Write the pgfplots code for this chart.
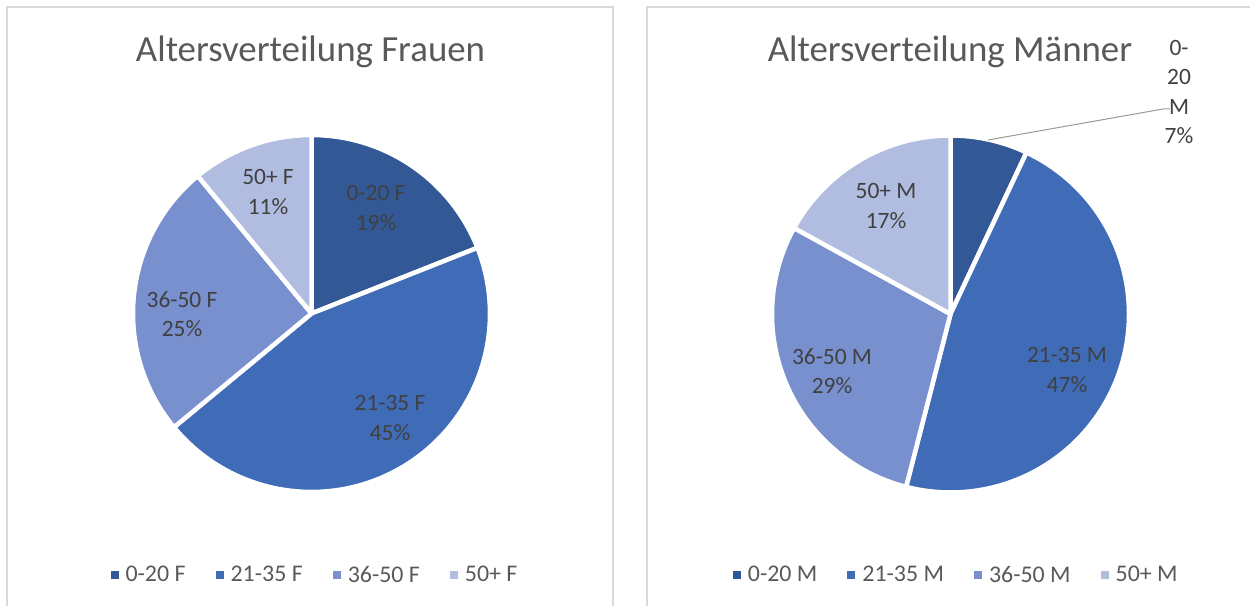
\documentclass[border=0pt]{standalone}
\usepackage{pgfplots}
\pgfplotsset{compat=1.18}
\usepackage{pgfplotstable}
\usepackage{fontspec}
\setmainfont{Carlito}
\definecolor{c1}{HTML}{325896}
\definecolor{c2}{HTML}{3F6BB7}
\definecolor{c3}{HTML}{7990CF}
\definecolor{c4}{HTML}{B1BDE0}
\definecolor{lblc}{HTML}{404040}
\definecolor{titc}{HTML}{595959}
\definecolor{bordc}{HTML}{D9D9D9}

% start = cumulative share before the slice, value = share in percent
\pgfplotstableread{
start value
0  19
19 45
64 25
89 11
}\frauen
\pgfplotstableread{
start value
0  7
7  47
54 29
83 17
}\maenner

\newcommand\R{178.5}
\newcommand\slice[5]{%
  \pgfplotstablegetelem{#2}{start}\of#1\let\sStart\pgfplotsretval
  \pgfplotstablegetelem{#2}{value}\of#1\let\sVal\pgfplotsretval
  \pgfmathsetmacro\aA{90-3.6*(\sStart+\sVal)}%
  \pgfmathsetmacro\aB{90-3.6*\sStart}%
  \edef\doslice{\noexpand\addplot[fill=#5, draw=white, line width=4.5bp, line join=round, domain=\aA:\aB, samples=90, variable=\noexpand\t, forget plot] ({#3+\R*cos(\noexpand\t)},{#4+\R*sin(\noexpand\t)}) -- (axis cs:#3,#4) -- cycle;}%
  \doslice}

\pgfplotsset{
  panel/.style={
    scale only axis, hide axis, width=625bp, height=606bp,
    ymin=0, ymax=606,
    legend columns=4,
    legend style={anchor=center, draw=none, fill=none,
      font=\fontsize{24}{28}\selectfont, text=titc,
      /tikz/every even column/.append style={column sep=28bp},
      inner xsep=0bp},
  },
  sq/.style={legend image code/.code={\fill[#1, draw=none] (0bp,-4bp) rectangle (8bp,4bp); \path[draw=none, fill=none] (0bp,0bp) -- (13bp,0bp);}},
}

\begin{document}
\begin{tikzpicture}
\useasboundingbox (0,0) rectangle (1250bp,606bp);
\begin{axis}[panel, at={(0,0)}, anchor=south west, xmin=0, xmax=625,
  legend style={at={(0.504,0.0512)}}]
  \addlegendimage{sq=c1}
  \addlegendimage{sq=c2}
  \addlegendimage{sq=c3}
  \addlegendimage{sq=c4}
  \slice{\frauen}{0}{311.5}{292.5}{c1}
  \slice{\frauen}{1}{311.5}{292.5}{c2}
  \slice{\frauen}{2}{311.5}{292.5}{c3}
  \slice{\frauen}{3}{311.5}{292.5}{c4}
  \draw[bordc, line width=1.5bp] (axis cs:7,-10) -- (axis cs:7,599) -- (axis cs:613,599) -- (axis cs:613,-10);
  \node[text=titc, font=\fontsize{37}{44}\selectfont] at (axis cs:310.5,554) {Altersverteilung Frauen};
  \begin{scope}[every node/.style={align=center, text=lblc, font=\fontsize{23.5}{29.5}\selectfont}]
  \node at (axis cs:376,398) {0-20 F\\19\%};
  \node at (axis cs:390,188) {21-35 F\\45\%};
  \node at (axis cs:182,292) {36-50 F\\25\%};
  \node at (axis cs:268,414) {50+ F\\11\%};
  \end{scope}
  \legend{0-20 F,21-35 F,36-50 F,50+ F}
\end{axis}
\begin{axis}[panel, at={(625bp,0)}, anchor=south west, xmin=625, xmax=1250,
  legend style={at={(0.53,0.0512)}}]
  \addlegendimage{sq=c1}
  \addlegendimage{sq=c2}
  \addlegendimage{sq=c3}
  \addlegendimage{sq=c4}
  \slice{\maenner}{0}{950.5}{292}{c1}
  \slice{\maenner}{1}{950.5}{292}{c2}
  \slice{\maenner}{2}{950.5}{292}{c3}
  \slice{\maenner}{3}{950.5}{292}{c4}
  \draw[bordc, line width=1.5bp] (axis cs:647,-10) -- (axis cs:647,599) -- (axis cs:1260,599);
  \node[text=titc, font=\fontsize{37}{44}\selectfont] at (axis cs:950,554) {Altersverteilung Männer};
  \draw[gray!80, line width=1bp] (axis cs:988,466) -- (axis cs:1163,497) -- (axis cs:1170,497);
  \begin{scope}[every node/.style={align=center, text=lblc, font=\fontsize{23.5}{29.5}\selectfont}]
  \node at (axis cs:1179,514) {0-\\20\\M\\7\%};
  \node at (axis cs:1067,236) {21-35 M\\47\%};
  \node at (axis cs:832,235) {36-50 M\\29\%};
  \node at (axis cs:886,400) {50+ M\\17\%};
  \end{scope}
  \legend{0-20 M,21-35 M,36-50 M,50+ M}
\end{axis}
\end{tikzpicture}
\end{document}
